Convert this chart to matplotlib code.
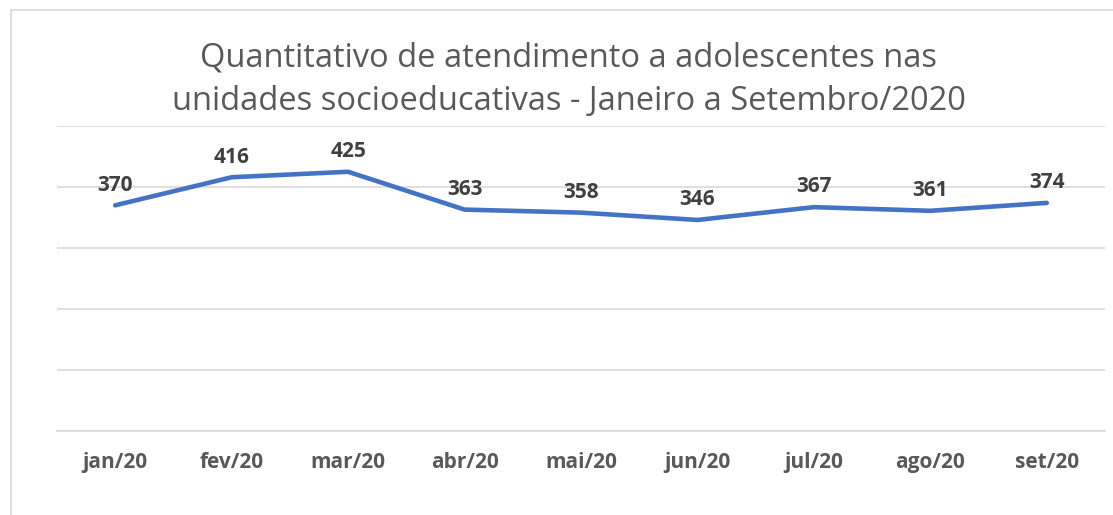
import matplotlib
matplotlib.use("Agg")
import matplotlib.pyplot as plt

# data
meses = ["jan/20", "fev/20", "mar/20", "abr/20", "mai/20",
         "jun/20", "jul/20", "ago/20", "set/20"]
atendimentos = [370, 416, 425, 363, 358, 346, 367, 361, 374]
titulo = ("Quantitativo de atendimento a adolescentes nas\n"
          "unidades socioeducativas - Janeiro a Setembro/2020")

plt.rcParams['font.family'] = ['Open Sans', 'DejaVu Sans']

fig = plt.figure(figsize=(11.13, 5.15), dpi=100)
ax = fig.add_axes([0.0512, 0.1631, 0.9416, 0.5922])

# outer chart border (only top and left visible in the crop)
fig.add_artist(plt.Line2D([11/1113, 1], [1 - 10/515] * 2, color="#d9d9d9",
                          lw=1.2, transform=fig.transFigure))
fig.add_artist(plt.Line2D([11/1113] * 2, [0, 1 - 10/515], color="#d9d9d9",
                          lw=1.2, transform=fig.transFigure))

x = list(range(len(meses)))
ax.plot(x, atendimentos, color="#4472C4", lw=3.3, solid_capstyle="round",
        solid_joinstyle="round")

for xi, v in zip(x, atendimentos):
    ax.annotate(str(v), (xi, v), xytext=(0, 7), textcoords="offset points",
                ha="center", va="bottom", fontsize=15, fontweight="bold",
                color="#404040")

ax.set_xlim(-0.5, len(meses) - 0.5)
ax.set_ylim(0, 500)
ax.set_yticks(range(0, 501, 100))
ax.yaxis.grid(True, color="#d9d9d9", lw=1.2)
ax.set_axisbelow(True)
ax.tick_params(axis="y", left=False, labelleft=False)
ax.set_xticks(x)
ax.set_xticklabels(meses, fontsize=15, fontweight="bold", color="#595959")
ax.tick_params(axis="x", length=0, pad=15)
for s in ["top", "right", "left"]:
    ax.spines[s].set_visible(False)
ax.spines["bottom"].set_color("#d9d9d9")
ax.spines["bottom"].set_linewidth(1.2)

fig.text(569/1113, 1 - 80/515, titulo, ha="center", va="center",
         fontsize=23.5, color="#595959", linespacing=1.4)

fig.savefig("out.png", dpi=100)
